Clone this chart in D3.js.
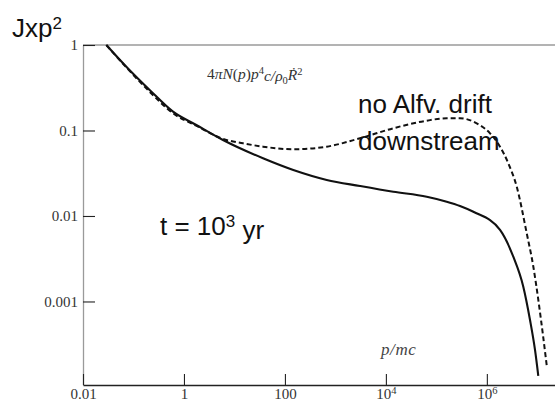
<!DOCTYPE html>
<html>
<head>
<meta charset="utf-8">
<script src="https://cdn.jsdelivr.net/npm/d3@7"></script>
<style>
  html, body { margin: 0; padding: 0; background: #fff; }
  svg { display: block; }
</style>
</head>
<body>
<svg id="chart" width="555" height="403"></svg>
<script>
// Momentum spectrum J x p^2 versus p/mc at t = 10^3 yr
const pSolid = [0.029, 0.0721, 0.209, 0.607, 1.754, 5.93, 36.8, 146.6, 673, 3069,
                14030, 64420, 160300, 293800, 540800, 1.824e6, 3.342e6, 5.272e6,
                7.161e6, 8.995e6, 1.045e7];
const jSolid = [1.0, 0.557, 0.298, 0.166, 0.116, 0.0774, 0.0473, 0.0345, 0.0264, 0.0224,
                0.0192, 0.0168, 0.0147, 0.0131, 0.0112, 0.00686, 0.00334, 0.00149,
                0.000608, 0.000271, 0.000135];

// "no Alfv. drift downstream" case
const pDashed = [0.029, 0.0721, 0.209, 0.607, 1.754, 5.93, 14.8, 36.8, 146.6, 673, 3069,
                 14030, 64420, 160300, 293800, 629500, 1.156e6, 1.824e6, 2.661e6,
                 3.908e6, 6.166e6, 8.337e6, 1.047e7, 1.279e7, 1.556e7];
const jDashed = [1.0, 0.548, 0.284, 0.159, 0.1138, 0.0796, 0.0708, 0.0647, 0.0603, 0.0647,
                 0.0811, 0.1062, 0.1303, 0.139, 0.139, 0.1213, 0.0927, 0.0647, 0.0413,
                 0.022, 0.00628, 0.00255, 0.00104, 0.000425, 0.000167];

const xTickValues = [0.01, 1, 100, 1e4, 1e6];
const xTickLabels = [["0.01", ""], ["1", ""], ["100", ""], ["10", "4"], ["10", "6"]];
const yTickValues = [1, 0.1, 0.01, 0.001];
const yTickLabels = ["1", "0.1", "0.01", "0.001"];

const svg = d3.select("#chart");
const plotLeft = 83, plotRight = 555, plotTop = 45, plotBottom = 385;

const x = d3.scaleLog().domain([0.01, Math.pow(10, 7.35)]).range([plotLeft, plotRight]);
const y = d3.scaleLog().domain([Math.pow(10, -3.977), 1]).range([plotBottom, plotTop]);

const serif = "'Liberation Serif', 'Times New Roman', serif";
const sans = "'Liberation Sans', Arial, sans-serif";

// top frame line
svg.append("line")
  .attr("x1", plotLeft).attr("x2", plotRight).attr("y1", plotTop).attr("y2", plotTop)
  .attr("stroke", "#9a9a9a").attr("stroke-width", 1.3);

// left axis (grey spine, inward ticks)
const yAxis = svg.append("g")
  .attr("transform", `translate(${plotLeft},0)`)
  .call(d3.axisLeft(y).tickValues(yTickValues).tickSizeInner(-12).tickSizeOuter(0).tickFormat(""));
yAxis.select(".domain").attr("stroke", "#9a9a9a").attr("stroke-width", 1.3);
yAxis.selectAll(".tick line").attr("stroke", "#222").attr("stroke-width", 1.1);
yAxis.selectAll(".tick").each(function(d, i) {
  d3.select(this).append("text")
    .attr("x", -5).attr("y", 0).attr("dy", "0.33em")
    .attr("text-anchor", "end")
    .attr("fill", "#333")
    .style("font-family", serif).style("font-size", "15px")
    .text(yTickLabels[i]);
});

// bottom axis
const xAxis = svg.append("g")
  .attr("transform", `translate(0,${plotBottom})`)
  .call(d3.axisBottom(x).tickValues(xTickValues).tickSizeInner(-11).tickSizeOuter(0).tickFormat(""));
xAxis.select(".domain").attr("stroke", "#222").attr("stroke-width", 1.4);
xAxis.selectAll(".tick line").attr("stroke", "#222").attr("stroke-width", 1.1);
xAxis.selectAll(".tick").each(function(d, i) {
  const t = d3.select(this).append("text")
    .attr("x", 0).attr("y", 14)
    .attr("text-anchor", "middle")
    .attr("fill", "#333")
    .style("font-family", serif).style("font-size", "15px");
  t.append("tspan").text(xTickLabels[i][0]);
  if (xTickLabels[i][1]) {
    t.append("tspan").attr("dy", "-0.45em").style("font-size", "10.5px").text(xTickLabels[i][1]);
  }
});

// curves
const line = d3.line()
  .x(d => x(d[0]))
  .y(d => y(d[1]))
  .curve(d3.curveMonotoneX);

svg.append("path")
  .datum(d3.zip(pDashed, jDashed))
  .attr("d", line)
  .attr("fill", "none").attr("stroke", "#111").attr("stroke-width", 2)
  .attr("stroke-dasharray", "5,3");

svg.append("path")
  .datum(d3.zip(pSolid, jSolid))
  .attr("d", line)
  .attr("fill", "none").attr("stroke", "#111").attr("stroke-width", 2.1);

// y-axis title
const yt = svg.append("text")
  .attr("x", 12).attr("y", 37)
  .attr("fill", "#111")
  .style("font-family", sans).style("font-size", "26px");
yt.append("tspan").text("Jxp");
yt.append("tspan").attr("dy", "-0.5em").style("font-size", "17px").text("2");

// quantity plotted
const q = svg.append("text")
  .attr("x", 207).attr("y", 79)
  .attr("fill", "#333")
  .style("font-family", serif).style("font-size", "15.5px").style("font-style", "italic");
q.append("tspan").style("font-style", "normal").text("4");
q.append("tspan").text("πN");
q.append("tspan").style("font-style", "normal").text("(");
q.append("tspan").text("p");
q.append("tspan").style("font-style", "normal").text(")");
q.append("tspan").text("p");
q.append("tspan").attr("dy", "-0.45em").style("font-size", "10.5px").style("font-style", "normal").text("4");
q.append("tspan").attr("dy", "0.45em").text("c/ρ");
q.append("tspan").attr("dy", "0.25em").style("font-size", "10.5px").style("font-style", "normal").text("0");
q.append("tspan").attr("dy", "-0.25em").text("Ṙ");
q.append("tspan").attr("dy", "-0.45em").style("font-size", "10.5px").style("font-style", "normal").text("2");

// x-axis title
svg.append("text")
  .attr("x", 381).attr("y", 355)
  .attr("fill", "#444")
  .style("font-family", serif).style("font-size", "17px").style("font-style", "italic")
  .style("letter-spacing", "0.6px")
  .text("p/mc");

// annotations
svg.append("text")
  .attr("x", 358).attr("y", 112.5)
  .attr("fill", "#111")
  .style("font-family", sans).style("font-size", "26px")
  .text("no Alfv. drift");
svg.append("text")
  .attr("x", 358).attr("y", 150)
  .attr("fill", "#111")
  .style("font-family", sans).style("font-size", "26px")
  .text("downstream");

const tt = svg.append("text")
  .attr("x", 160).attr("y", 235)
  .attr("fill", "#111")
  .style("font-family", sans).style("font-size", "26px");
tt.append("tspan").text("t = 10");
tt.append("tspan").attr("dy", "-0.45em").style("font-size", "17px").text("3");
tt.append("tspan").attr("dy", "0.45em").text(" yr");
</script>
</body>
</html>
